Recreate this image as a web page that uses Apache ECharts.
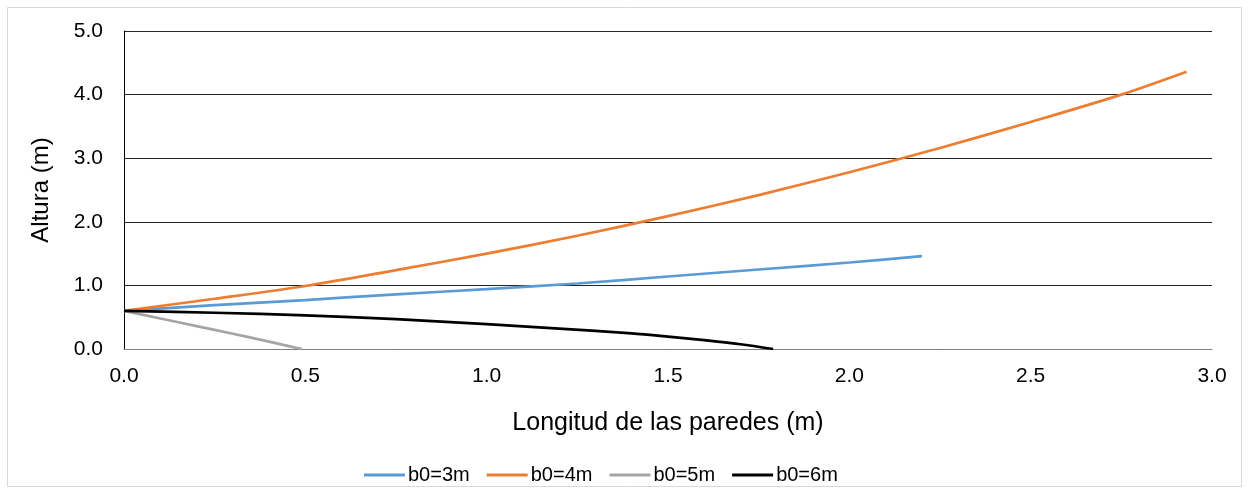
<!DOCTYPE html>
<html>
<head>
<meta charset="utf-8">
<script src="https://cdn.jsdelivr.net/npm/echarts@6/dist/echarts.min.js"></script>
<style>
  html, body { margin: 0; padding: 0; background: #fff; }
  #chart { width: 1249px; height: 495px; }
</style>
</head>
<body>
<div id="chart"></div>
<script>
// Wall length (m) and height (m) for each initial width b0
const seriesNames = ['b0=3m', 'b0=4m', 'b0=5m', 'b0=6m'];
const seriesColors = ['#5B9BD5', '#ED7D31', '#A5A5A5', '#000000'];

const xB3 = [0, 0.25, 0.5, 0.75, 1.0, 1.25, 1.5, 1.75, 2.0, 2.2];
const yB3 = [0.60, 0.69, 0.77, 0.86, 0.94, 1.03, 1.14, 1.25, 1.36, 1.46];

const xB4 = [0, 0.25, 0.5, 0.75, 1.0, 1.25, 1.5, 1.75, 2.0, 2.25, 2.5, 2.75, 2.93];
const yB4 = [0.60, 0.79, 0.99, 1.24, 1.50, 1.78, 2.09, 2.42, 2.78, 3.16, 3.57, 4.00, 4.36];

const xB5 = [0, 0.1, 0.2, 0.3, 0.4, 0.49];
const yB5 = [0.60, 0.48, 0.36, 0.24, 0.115, 0.0];

const xB6 = [0, 0.25, 0.5, 0.75, 1.0, 1.2, 1.4, 1.5, 1.6, 1.7, 1.79];
const yB6 = [0.60, 0.57, 0.53, 0.47, 0.39, 0.32, 0.245, 0.195, 0.14, 0.075, 0.0];

const xTicks = ['0.0', '0.5', '1.0', '1.5', '2.0', '2.5', '3.0'];
const yTicks = ['0.0', '1.0', '2.0', '3.0', '4.0', '5.0'];

const pairs = (xs, ys) => xs.map((x, i) => [x, ys[i]]);
const allData = [pairs(xB3, yB3), pairs(xB4, yB4), pairs(xB5, yB5), pairs(xB6, yB6)];

const font = 'Liberation Sans, Arial, sans-serif';
const chart = echarts.init(document.getElementById('chart'));

chart.setOption({
  backgroundColor: '#ffffff',
  animation: false,
  graphic: [{
    type: 'rect',
    shape: { x: 7.5, y: 7.5, width: 1234, height: 479 },
    style: { fill: 'none', stroke: '#d9d9d9', lineWidth: 1 },
    silent: true
  }],
  grid: { left: 124, right: 37, top: 31, bottom: 146, containLabel: false },
  legend: {
    left: 359,
    top: 460,
    itemWidth: 41,
    itemHeight: 3,
    itemGap: 17,
    icon: 'rect',
    textStyle: { fontFamily: font, fontSize: 20, color: '#000000', padding: [0, 0, 0, -2] },
    data: seriesNames
  },
  xAxis: {
    type: 'value',
    min: 0, max: 3, interval: 0.5,
    name: 'Longitud de las paredes (m)',
    nameLocation: 'middle',
    nameGap: 62,
    nameTextStyle: { fontFamily: font, fontSize: 25, color: '#000000' },
    axisLine: { show: true, lineStyle: { color: '#808080', width: 1 } },
    axisTick: { show: false },
    splitLine: { show: false },
    axisLabel: {
      margin: 17,
      fontFamily: font, fontSize: 21, color: '#000000',
      formatter: v => xTicks[Math.round(v / 0.5)]
    }
  },
  yAxis: {
    type: 'value',
    min: 0, max: 5, interval: 1,
    name: 'Altura (m)',
    nameLocation: 'middle',
    nameGap: 71,
    nameRotate: 90,
    nameTextStyle: { fontFamily: font, fontSize: 24, color: '#000000' },
    axisLine: { show: true, lineStyle: { color: '#000000', width: 1 } },
    axisTick: { show: false },
    splitLine: { show: true, lineStyle: { color: '#262626', width: 1 } },
    axisLabel: {
      margin: 21,
      fontFamily: font, fontSize: 21, color: '#000000',
      formatter: v => yTicks[Math.round(v)]
    }
  },
  series: seriesNames.map((name, i) => ({
    name,
    type: 'line',
    data: allData[i],
    smooth: 0.3,
    showSymbol: false,
    symbol: 'none',
    color: seriesColors[i],
    lineStyle: { width: 2.7, color: seriesColors[i] },
    z: i === 3 ? 5 : 3
  }))
});
</script>
</body>
</html>
